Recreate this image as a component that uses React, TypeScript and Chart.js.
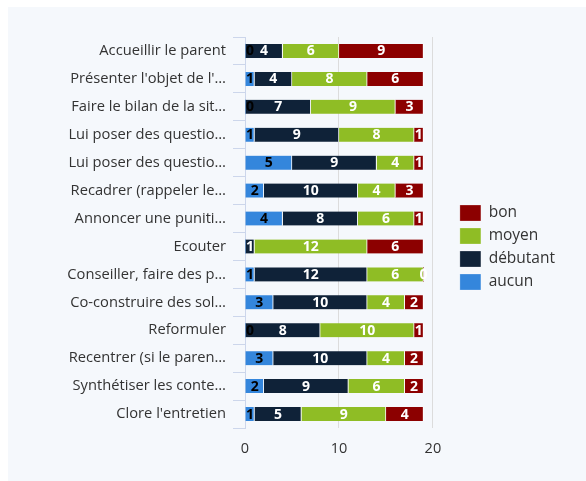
import { useEffect, useRef } from 'react';
import { Chart, registerables } from 'chart.js';
Chart.register(...registerables);

const categories = [
  'Accueillir le parent',
  "Présenter l'objet de l'…",
  'Faire le bilan de la sit…',
  'Lui poser des questio…',
  'Lui poser des questio…',
  'Recadrer (rappeler le…',
  'Annoncer une puniti…',
  'Ecouter',
  'Conseiller, faire des p…',
  'Co-construire des sol…',
  'Reformuler',
  'Recentrer (si le paren…',
  'Synthétiser les conte…',
  "Clore l'entretien",
];
const aucun = [0, 1, 0, 1, 5, 2, 4, 0, 1, 3, 0, 3, 2, 1];
const debutant = [4, 4, 7, 9, 9, 10, 8, 1, 12, 10, 8, 10, 9, 5];
const moyen = [6, 8, 9, 8, 4, 4, 6, 12, 6, 4, 10, 4, 6, 9];
const bon = [9, 6, 3, 1, 1, 3, 1, 6, 0, 2, 1, 2, 2, 4];
const seriesNames = ['aucun', 'débutant', 'moyen', 'bon'];
const seriesColors = ['#3486dc', '#0f2238', '#8fbd25', '#8c0000'];
const labelColors = ['#000000', '#ffffff', '#ffffff', '#ffffff'];
const xTicks = [0, 10, 20];

const FONT = '"Open Sans", "DejaVu Sans", sans-serif';

const labelPlugin = {
  id: 'barLabels',
  afterDatasetsDraw(chart: any) {
    const ctx = chart.ctx;
    const area = chart.chartArea;
    ctx.save();
    ctx.font = `bold 14px ${FONT}`;
    ctx.textAlign = 'center';
    ctx.textBaseline = 'middle';
    const boxes: { l: number; r: number }[][] = categories.map(() => []);
    for (let d = chart.data.datasets.length - 1; d >= 0; d--) {
      const meta = chart.getDatasetMeta(d);
      const ds = chart.data.datasets[d];
      meta.data.forEach((el: any, i: number) => {
        const v = ds.data[i];
        const p = el.getProps(['x', 'base', 'y'], true);
        const text = String(v);
        const w = ctx.measureText(text).width;
        let cx = (p.x + p.base) / 2;
        if (cx - w / 2 < area.left + 1) cx = area.left + 1 + w / 2;
        if (cx + w / 2 > area.right) cx = area.right - w / 2;
        const l = cx - w / 2 - 1;
        const r = cx + w / 2 + 1;
        if (boxes[i].some((b) => l < b.r && r > b.l)) return;
        boxes[i].push({ l, r });
        ctx.fillStyle = labelColors[d];
        ctx.fillText(text, cx, p.y + 0.5);
      });
    }
    ctx.restore();
  },
};

export default function App() {
  const ref = useRef<HTMLCanvasElement | null>(null);
  useEffect(() => {
    if (!ref.current) return;
    const values = [aucun, debutant, moyen, bon];
    const chart = new Chart(ref.current, {
      type: 'bar',
      data: {
        labels: categories,
        datasets: values.map((vals, k) => ({
          label: seriesNames[k],
          data: vals,
          backgroundColor: seriesColors[k],
          borderColor: '#ffffff',
          borderWidth: { top: 0, bottom: 0, left: 0, right: 1 },
          borderSkipped: false,
          barThickness: 14,
        })),
      },
      options: {
        indexAxis: 'y',
        animation: false,
        responsive: false,
        maintainAspectRatio: false,
        layout: { padding: { top: 30, bottom: 23, left: 0, right: 21 } },
        scales: {
          x: {
            stacked: true,
            min: 0,
            max: 20,
            afterBuildTicks: (s: any) => {
              s.ticks = xTicks.map((v) => ({ value: v }));
            },
            ticks: { color: '#333333', font: { family: FONT, size: 14.5 }, padding: 12 },
            grid: { color: '#dcdcdc', drawTicks: false },
            border: { display: false },
            afterFit: (s: any) => {
              s.height = 30;
            },
          },
          y: {
            stacked: true,
            grid: { drawOnChartArea: false, tickLength: 12, color: '#ccd6eb' },
            border: { color: '#ccd6eb' },
            ticks: { color: '#333333', font: { family: FONT, size: 14.7 }, padding: 7 },
            afterFit: (s: any) => {
              s.width = 237;
            },
          },
          y2: {
            axis: 'y',
            type: 'linear',
            position: 'right',
            display: true,
            grid: { display: false },
            border: { display: false },
            ticks: { display: false },
            afterFit: (s: any) => {
              s.width = 20;
            },
          },
        },
        plugins: {
          legend: {
            position: 'right',
            reverse: true,
            maxWidth: 300,
            labels: {
              boxWidth: 21,
              boxHeight: 16,
              padding: 7,
              color: '#333333',
              font: { family: FONT, size: 15.5 },
            },
          },
          tooltip: { enabled: false },
        },
      } as any,
      plugins: [labelPlugin],
    });
    return () => chart.destroy();
  }, []);
  return (
    <div
      style={{
        position: 'absolute',
        left: 8,
        top: 7,
        width: 578,
        height: 474,
        background: '#f5f8fc',
      }}
    >
      <canvas ref={ref} width={578} height={474} style={{ display: 'block' }} />
    </div>
  );
}
